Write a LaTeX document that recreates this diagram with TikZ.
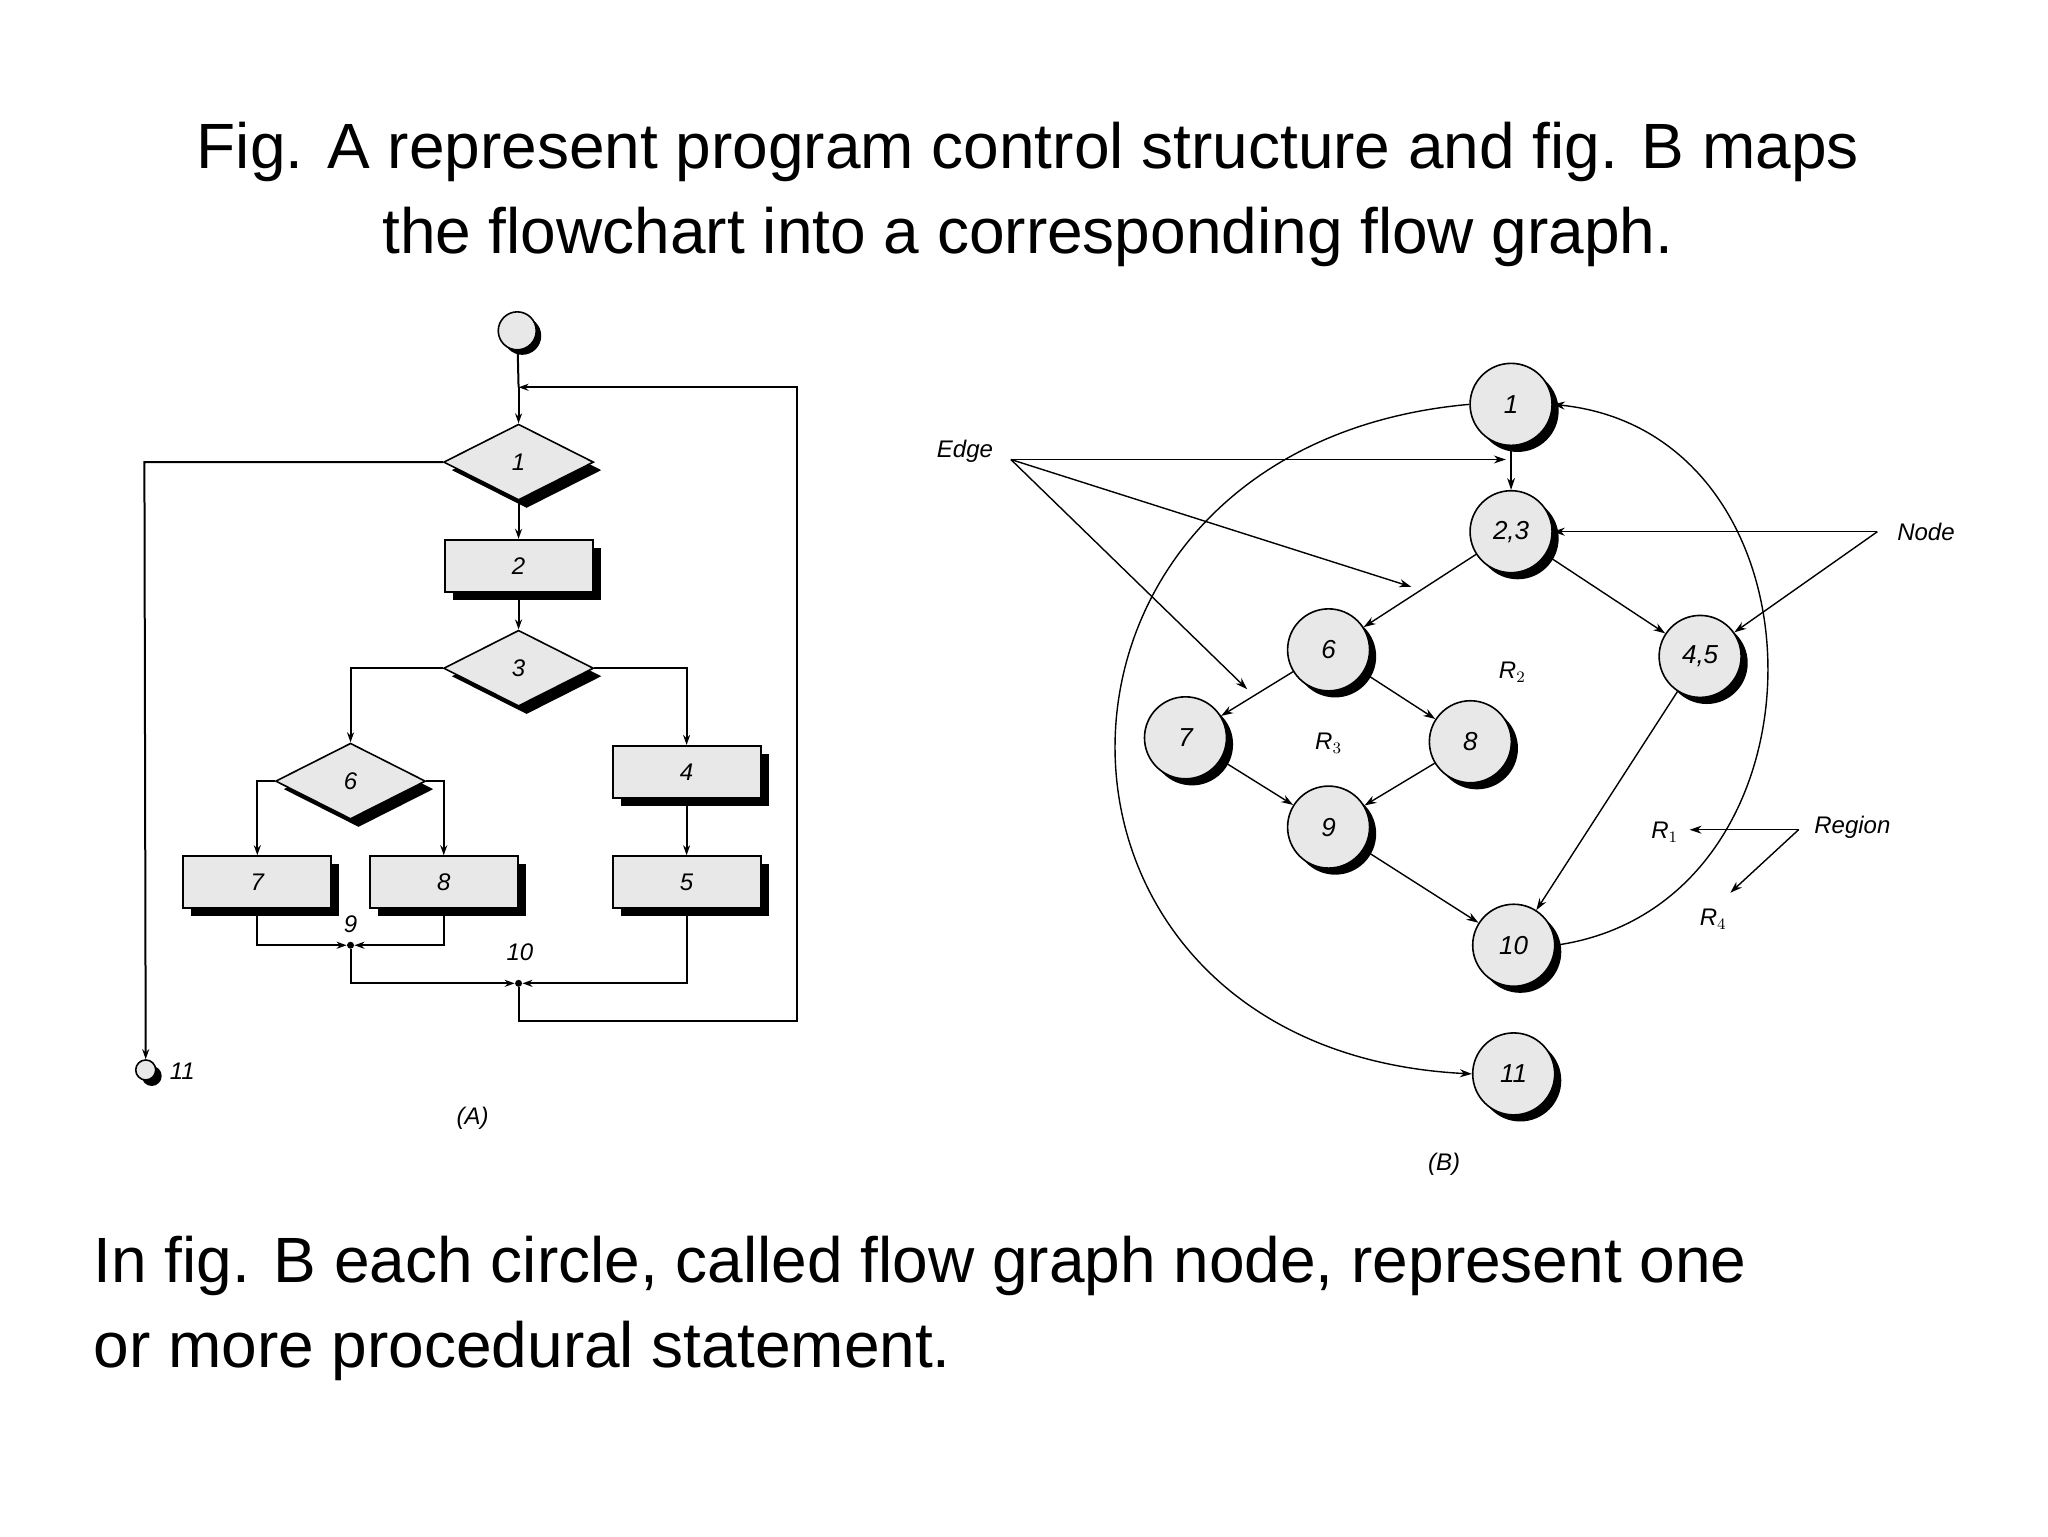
\documentclass[tikz,border=0pt]{standalone}
\usepackage{fontspec}
\setmainfont{Liberation Sans}
\usetikzlibrary{shapes.geometric,shadows,arrows.meta}
\begin{document}
\begin{tikzpicture}[x=0.6565pt,y=-0.6565pt,
  lab/.style={font=\itshape\fontsize{12}{14}\selectfont},
  shd/.style={drop shadow={shadow xshift=4pt,shadow yshift=-4pt,fill=black,opacity=1}},
  box/.style={rectangle,draw,line width=1pt,fill=gray!18,minimum width=74pt,minimum height=26pt,inner sep=0,shd,lab},
  dia/.style={diamond,draw,line width=0.8pt,fill=gray!18,minimum width=75pt,minimum height=38pt,aspect=2,inner sep=0,shd,lab},
  fl/.style={line width=1pt,-{Stealth[length=5pt,width=3.5pt]}},
  fln/.style={line width=1pt},
  gn/.style={circle,draw,line width=0.8pt,fill=gray!18,minimum size=41pt,inner sep=0,drop shadow={shadow xshift=3.3pt,shadow yshift=-3.3pt,fill=black,opacity=1},font=\itshape\fontsize{13}{15}\selectfont},
  ge/.style={line width=0.7pt,-{Stealth[length=6pt,width=4pt]}},
  jn/.style={circle,fill=black,inner sep=0,minimum size=3.5pt}]
\useasboundingbox (0,0) rectangle (1560,1170);
\node[align=center,font=\fontsize{32}{42.5}\selectfont] (title) at (783,148) {Fig. A represent program control structure and fig. B maps\\the flowchart into a corresponding flow graph.};
\node[align=left,anchor=west,font=\fontsize{32}{42.5}\selectfont] (foot) at (66,997) {In fig. B each circle, called flow graph node, represent one\\or more procedural statement.};
% Fig A
\node[circle,draw,line width=0.8pt,fill=gray!18,minimum size=19pt,inner sep=0,drop shadow={shadow xshift=2.5pt,shadow yshift=-2.5pt,fill=black,opacity=1}] (s) at (394,252) {};
\node[dia] (d1) at (395,352) {1};
\node[box] (b2) at (395,431) {2};
\node[dia] (d3) at (395,509) {3};
\node[dia] (d6) at (267,595) {6};
\node[box] (b4) at (523,588) {4};
\node[box] (b7) at (196,672) {7};
\node[box] (b8) at (338,672) {8};
\node[box] (b5) at (523,672) {5};
\node[jn] (j9) at (267,720) {};
\node[jn] (j10) at (395,749) {};
\node[lab] at (267,704) {9};
\node[lab] at (396,725) {10};
\node[circle,draw,line width=0.8pt,fill=gray!18,minimum size=10pt,inner sep=0,drop shadow={shadow xshift=3pt,shadow yshift=-3pt,fill=black,opacity=1}] (e11) at (111,815) {};
\node[lab,anchor=west] at (124,816) {11};
\node[lab] at (360,852) {(A)};
\coordinate (top) at (395,295);
\draw[fln] (s) -- (top);
\draw[fl] (top) -- (d1);
\draw[fl] (d1.west) -- (110,352) -- (e11);
\draw[fl] (d1) -- (b2);
\draw[fl] (b2) -- (d3);
\draw[fl] (d3.west) -| (d6.north);
\draw[fl] (d3.east) -| (b4.north);
\draw[fl] (d6.west) -| (b7.north);
\draw[fl] (d6.east) -| (b8.north);
\draw[fl] (b4) -- (b5);
\draw[fl] (b7.south) |- (j9);
\draw[fl] (b8.south) |- (j9);
\draw[fl] (j9) |- (j10);
\draw[fl] (b5.south) |- (j10);
\draw[fl] (j10) -- (395,778) -- (607,778) -- (607,295) -- (top);
% Fig B
\node[gn] (n1) at (1151,308) {1};
\node[gn] (n23) at (1151,405) {2,3};
\node[gn] (n6) at (1012,495) {6};
\node[gn] (n45) at (1295,500) {4,5};
\node[gn] (n7) at (903,562) {7};
\node[gn] (n8) at (1120,565) {8};
\node[gn] (n9) at (1012,630) {9};
\node[gn] (n10) at (1153,720) {10};
\node[gn] (n11) at (1153,818) {11};
\draw[ge] (n1) -- (n23);
\draw[ge] (n23) -- (n6);
\draw[ge] (n23) -- (n45);
\draw[ge] (n6) -- (n7);
\draw[ge] (n6) -- (n8);
\draw[ge] (n7) -- (n9);
\draw[ge] (n8) -- (n9);
\draw[ge] (n9) -- (n10);
\draw[ge] (n45) -- (n10);
\draw[ge] (n10.east) .. controls (1400,690) and (1400,330) .. (n1.east);
\draw[ge] (n1.west) .. controls (760,340) and (760,800) .. (n11.west);
\node[lab] (edge) at (735,344) {Edge};
\coordinate (ea) at (770,350);
\coordinate (e1) at (1147,350);
\coordinate (e2) at (1075,447);
\coordinate (e3) at (950,525);
\draw[ge] (ea) -- (e1);
\draw[ge] (ea) -- (e2);
\draw[ge] (ea) -- (e3);
\node[lab] (node) at (1467,405) {Node};
\coordinate (na) at (1430,405);
\draw[ge] (na) -- (n23);
\draw[ge] (na) -- (n45);
\node[lab] (reg) at (1411,630) {Region};
\coordinate (ra) at (1370,632);
\coordinate (r1) at (1287,632);
\coordinate (r4) at (1318,680);
\draw[ge] (ra) -- (r1);
\draw[ge] (ra) -- (r4);
\node[lab] at (1268,634) {$\mathit{R}_1$};
\node[lab] at (1305,700) {$\mathit{R}_4$};
\node[lab] at (1152,512) {$\mathit{R}_2$};
\node[lab] at (1012,566) {$\mathit{R}_3$};
\node[lab] at (1100,887) {(B)};
\end{tikzpicture}
\end{document}
